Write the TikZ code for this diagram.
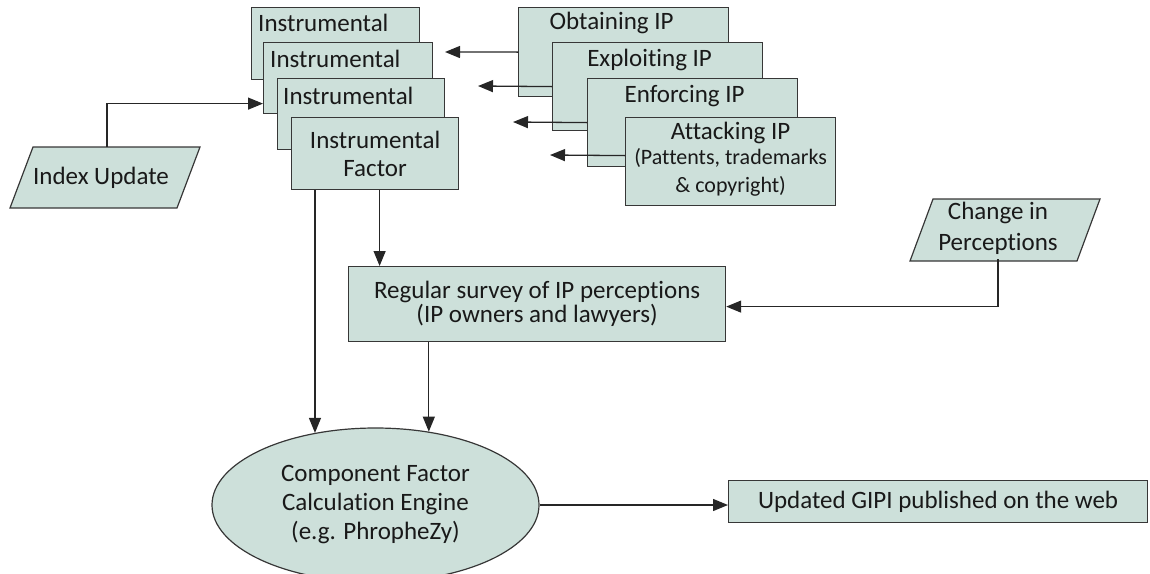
\documentclass[tikz,border=0pt]{standalone}
\usepackage{fontspec}
\setmainfont{Carlito}[Ligatures={NoCommon}]
\usetikzlibrary{arrows.meta,shapes.geometric,calc}
\definecolor{boxfill}{RGB}{205,224,218}
\definecolor{edgecol}{RGB}{55,55,55}
\newcommand\dgfs{\fontsize{25}{28}\selectfont}
\newcommand\dgsmall{\fontsize{22}{22}\selectfont}
\begin{document}
\begin{tikzpicture}[x=1pt,y=-1pt,
  base/.style={fill=boxfill, draw=edgecol, line width=1.2pt},
  box/.style={base, rectangle, anchor=north west, inner sep=0pt, font=\dgfs, align=center},
  lbl/.style={inner sep=0pt, font=\dgfs, align=center, text=black!90},
  arr/.style={draw=black!85, line width=1.3pt, -{Triangle[length=15pt,width=12pt]}}]
\useasboundingbox (0,0) rectangle (1150,573);
\clip (0,0) rectangle (1150,573);

% instrumental stack
\node[box, minimum width=168pt, minimum height=72pt,
  label={[lbl,anchor=west,xshift=7pt,yshift=-16pt]north west:Instrumental}] (b1) at (251,7) {};
\node[box, minimum width=169pt, minimum height=71pt,
  label={[lbl,anchor=west,xshift=7pt,yshift=-17pt]north west:Instrumental}] (b2) at (263,42) {};
\node[box, minimum width=167pt, minimum height=71pt,
  label={[lbl,anchor=west,xshift=6pt,yshift=-18pt]north west:Instrumental}] (b3) at (277,78) {};
\node[box, minimum width=167pt, minimum height=72pt, text=black!90] (b4) at (291,117) {Instrumental\\Factor};

% IP stack
\node[box, minimum width=210pt, minimum height=89pt,
  label={[lbl,anchor=center,xshift=-12pt,yshift=-16pt]north:Obtaining IP}] (ob) at (518,7) {};
\node[box, minimum width=210pt, minimum height=88pt,
  label={[lbl,anchor=center,xshift=-8pt,yshift=-18pt]north:Exploiting IP}] (ex) at (552,42) {};
\node[box, minimum width=210pt, minimum height=88pt,
  label={[lbl,anchor=center,xshift=-8pt,yshift=-18pt]north:Enforcing IP}] (en) at (587,78) {};
\node[box, minimum width=210pt, minimum height=88pt,
  label={[lbl,anchor=north,yshift=-5pt]north:{Attacking IP\\[-3pt]{\dgsmall(Pattents, trademarks}\\{\dgsmall\& copyright)}}}] (at) at (625,117) {};

% parallelograms
\filldraw[base] (33,147) -- (200,147) -- (177,208) -- (10,208) -- cycle;
\node[lbl, minimum height=61pt, minimum width=150pt] (iu) at (101,177.5) {Index Update};
\filldraw[base] (933,199) -- (1100,199) -- (1077,261) -- (910,261) -- cycle;
\node[lbl, minimum height=62pt, minimum width=150pt, font=\fontsize{25}{31}\selectfont] (cp) at (998,228) {Change in\\Perceptions};

% survey, engine, output
\node[box, minimum width=377pt, minimum height=75pt, text=black!90, font=\fontsize{25}{24}\selectfont] (sv) at (348,266) {Regular survey of IP perceptions\\(IP owners and lawyers)};
\node[base, ellipse, minimum width=327pt, minimum height=154pt, inner sep=0pt, text=black!90, font=\fontsize{25}{29}\selectfont, align=center] (eng) at (375.5,505) {\raisebox{6pt}{\begin{tabular}{@{}c@{}}Component Factor\\Calculation Engine\\(e.g. PhropheZy)\end{tabular}}};
\node[box, minimum width=419pt, minimum height=42pt, text=black!90] (up) at (728,480) {Updated GIPI published on the web};

% free ends
\coordinate (t1) at (445,52);
\coordinate (t2) at (478,86);
\coordinate (t3) at (513,122);
\coordinate (t4) at (550,155);

% connectors
\draw[arr] ([xshift=6pt]iu.north) |- ([yshift=-25.5pt]b2.west);
\draw[arr] (ob.west) -- (t1);
\draw[arr] (ex.west) -- (t2);
\draw[arr] (en.west) -- (t3);
\draw[arr] ([yshift=6pt]at.west) -- (t4);
\draw[arr] ([xshift=4.5pt]b4.south) -- ([xshift=4.5pt]b4.south |- sv.north);
\draw[arr] (b4.south -| eng.130.8) -- (eng.130.8);
\draw[arr] (sv.south -| eng.54.8) -- (eng.54.8);
\draw[arr] (cp.south) |- ([yshift=-2.5pt]sv.east);
\draw[arr] (eng.east) -- (eng.east -| up.west);
\end{tikzpicture}
\end{document}
